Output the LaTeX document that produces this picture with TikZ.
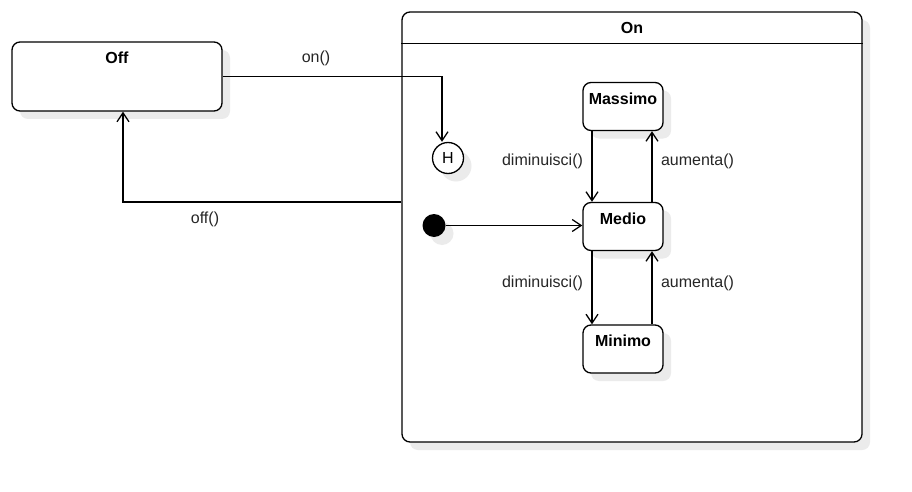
\documentclass[tikz,border=0pt]{standalone}
\usepackage{fontspec}
\setmainfont{Liberation Sans}
\usetikzlibrary{arrows.meta,shadows}
\tikzset{
  shadowed/.style={drop shadow={shadow xshift=8pt,shadow yshift=-8pt,fill=black!8,opacity=1}},
  state/.style={draw, line width=1.3pt, rounded corners=8pt, fill=white, shadowed, minimum width=80pt, minimum height=48pt},
  title/.style={font=\fontsize{16}{19}\selectfont\bfseries, anchor=center, yshift=-16.5pt},
  lbl/.style={font=\fontsize{16}{19}\selectfont, text=black!85},
  trans/.style={line width=1.3pt, -{Straight Barb[length=9pt,width=12pt]}},
}
\begin{document}
\begin{tikzpicture}[x=1pt,y=-1pt]
\path[fill=white, use as bounding box] (0,0) rectangle (912,492);
% composite state
\node[state, minimum width=460pt, minimum height=430pt, label={[title]north:On}] (on) at (632,227){};
\draw[line width=1.3pt] ([yshift=-32pt]on.north west) -- ([yshift=-32pt]on.north east);
\node[state, minimum width=210pt, minimum height=69pt, label={[title]north:Off}] (off) at (117,76.5){};
% inner states
\node[state, label={[title]north:Massimo}] (massimo) at (623,106.5){};
\node[state, label={[title]north:Medio}] (medio) at (623,226.5){};
\node[state, label={[title]north:Minimo}] (minimo) at (623,349){};
\node[circle, draw, line width=1.3pt, fill=white, shadowed, minimum size=31pt, inner sep=0pt, font=\fontsize{16}{19}\selectfont] (hist) at (448,158){H};
\node[circle, fill, shadowed, minimum size=23pt, inner sep=0pt] (init) at (434,225.5){};
% transitions
\draw[trans](off.east) -| ([xshift=-6pt]hist.north);
\node[lbl] (lon) at (316,58){on()};
\draw[trans]([yshift=25pt]on.west) -| ([xshift=6pt]off.south);
\node[lbl] (loff) at (205,219){off()};
\draw[trans](init) -- (init -| medio.west);
\draw[trans]([xshift=-31pt]massimo.south) -- ([xshift=-31pt]medio.north);
\draw[trans]([xshift=29pt]medio.north) -- ([xshift=29pt]massimo.south);
\node[lbl] (ldim1) at (542.5,161){diminuisci()};
\node[lbl] (laum1) at (697.5,161){aumenta()};
\draw[trans]([xshift=-31pt]medio.south) -- ([xshift=-31pt]minimo.north);
\draw[trans]([xshift=29pt]minimo.north) -- ([xshift=29pt]medio.south);
\node[lbl] (ldim2) at (542.5,283){diminuisci()};
\node[lbl] (laum2) at (697.5,283){aumenta()};

\end{tikzpicture}
\end{document}
